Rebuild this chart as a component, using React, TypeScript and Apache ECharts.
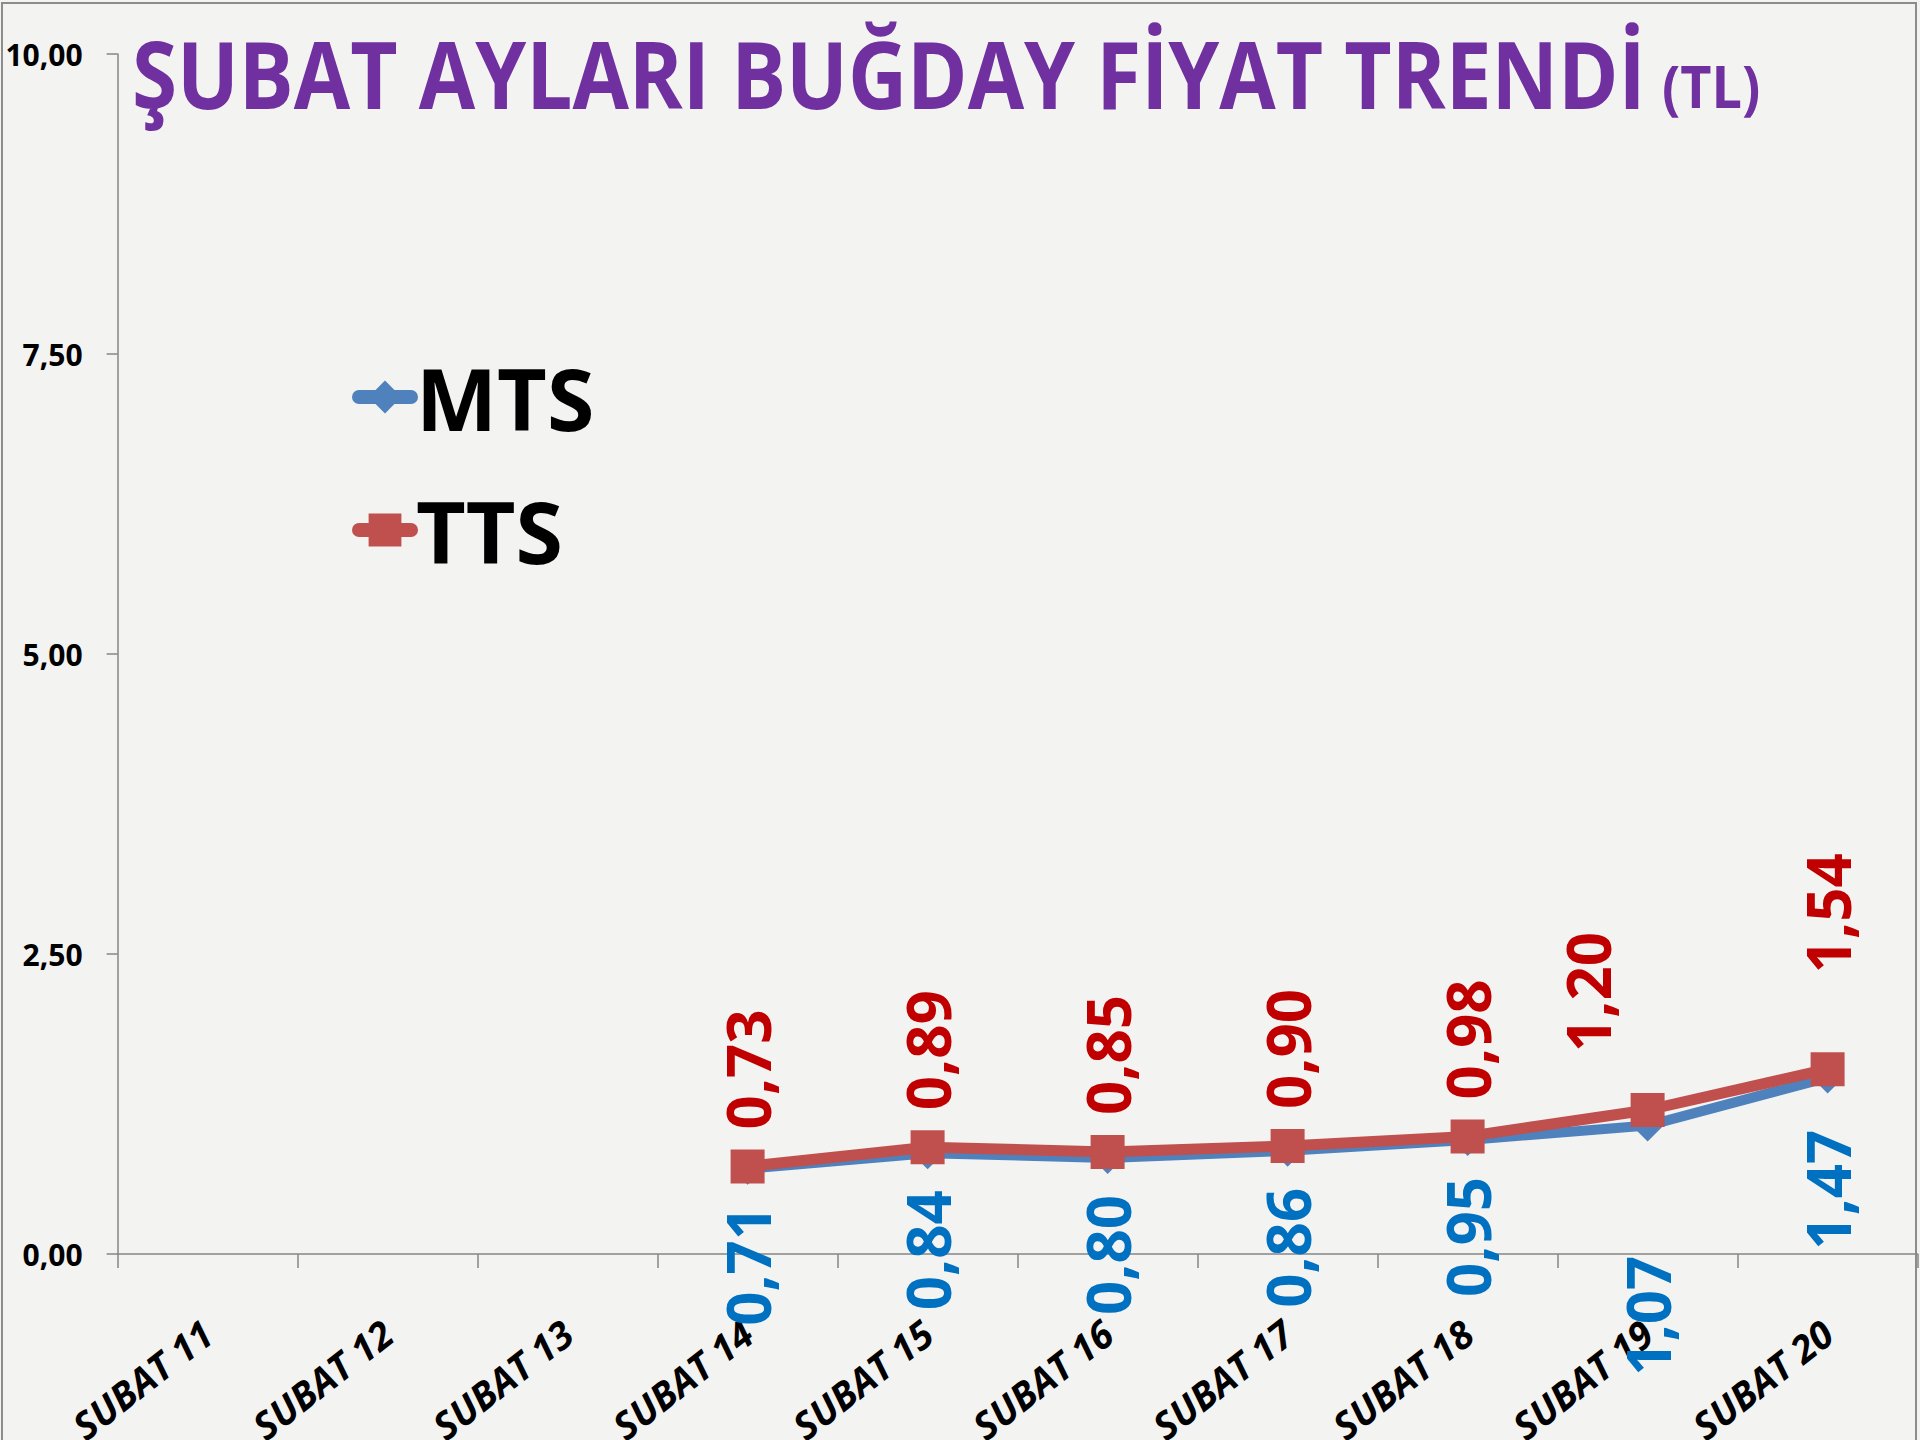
import React, { useEffect, useRef } from "react";
import * as echarts from "echarts";

const categories = [
  "SUBAT 11", "SUBAT 12", "SUBAT 13", "SUBAT 14", "SUBAT 15",
  "SUBAT 16", "SUBAT 17", "SUBAT 18", "SUBAT 19", "SUBAT 20",
];
const mtsValues: (number | null)[] = [null, null, null, 0.71, 0.84, 0.8, 0.86, 0.95, 1.07, 1.47];
const ttsValues: (number | null)[] = [null, null, null, 0.73, 0.89, 0.85, 0.9, 0.98, 1.2, 1.54];
const yTicks = [0, 2.5, 5, 7.5, 10];

const titleMain = "ŞUBAT AYLARI BUĞDAY FİYAT TRENDİ";
const titleUnit = "(TL)";

const FONT = '"Open Sans", "Noto Sans", sans-serif';
const fmt = (v: number) => v.toFixed(2).replace(".", ",");

// per-point label adjustments (distance from marker, screen x shift)
const ttsLabelAdj: Record<number, { d: number; dx?: number }> = {
  8: { d: 41, dx: -60 },
  9: { d: 79 },
};
const mtsLabelAdj: Record<number, { d: number; dx?: number }> = {
  8: { d: 114 },
  9: { d: 36 },
};

export default function App() {
  const ref = useRef<HTMLDivElement>(null);
  useEffect(() => {
    if (!ref.current) return;
    const chart = echarts.init(ref.current, null, { renderer: "svg" });

    const labelBase = {
      show: true,
      rotate: 90,
      verticalAlign: "middle",
      fontFamily: FONT,
      fontWeight: "bold",
      fontSize: 60,
      formatter: (p: any) => fmt(p.value),
    };

    const ttsData = ttsValues.map((v, i) => {
      const adj = ttsLabelAdj[i];
      if (v == null || !adj) return v;
      return { value: v, label: { distance: adj.d, offset: adj.dx ? [0, adj.dx] : [0, 0] } };
    });
    const mtsData = mtsValues.map((v, i) => {
      const adj = mtsLabelAdj[i];
      if (v == null || !adj) return v;
      return { value: v, label: { distance: adj.d, offset: adj.dx ? [0, adj.dx] : [0, 0] } };
    });

    chart.setOption({
      animation: false,
      backgroundColor: "#f3f3f2",
      grid: {
        left: 117.6,
        right: 2.4,
        top: 54,
        bottom: 186,
        containLabel: false,
        outerBoundsMode: "none",
      },
      graphic: [
        {
          type: "rect",
          shape: { x: 2, y: 3, width: 1914, height: 1440 },
          style: { fill: "none", stroke: "#8c8c8c", lineWidth: 2 },
          silent: true,
          z: 0,
        },
        {
          type: "text",
          x: 132,
          y: 73,
          scaleX: 0.87,
          style: {
            text: titleMain,
            font: `bold 94px ${FONT}`,
            fill: "#7030A0",
            textAlign: "left",
            textVerticalAlign: "middle",
          },
        },
        {
          type: "text",
          x: 1662,
          y: 85,
          scaleX: 0.9,
          style: {
            text: titleUnit,
            font: `bold 60px ${FONT}`,
            fill: "#7030A0",
            textAlign: "left",
            textVerticalAlign: "middle",
          },
        },
      ],
      legend: {
        orient: "vertical",
        left: 352,
        top: 352,
        padding: 0,
        itemWidth: 52,
        itemHeight: 41,
        itemGap: 43,
        lineStyle: { width: 14, cap: "round" },
        textStyle: {
          fontFamily: FONT,
          fontWeight: "bold",
          fontSize: 86,
          lineHeight: 90,
          color: "#000",
        },
        data: ["MTS", "TTS"],
      },
      xAxis: {
        type: "category",
        data: categories,
        boundaryGap: true,
        axisLine: { lineStyle: { color: "#868686", width: 1.5 } },
        axisTick: { show: true, length: 14, inside: false, lineStyle: { color: "#868686", width: 1.5 } },
        axisLabel: {
          rotate: 38,
          interval: 0,
          margin: 74,
          align: "right",
          verticalAlign: "middle",
          color: "#000",
          fontFamily: FONT,
          fontWeight: "bold",
          fontStyle: "italic",
          fontSize: 38,
        },
        splitLine: { show: false },
      },
      yAxis: {
        type: "value",
        min: yTicks[0],
        max: yTicks[yTicks.length - 1],
        interval: yTicks[1] - yTicks[0],
        axisLine: { show: true, lineStyle: { color: "#868686", width: 1.5 } },
        axisTick: { show: true, length: 11, inside: false, lineStyle: { color: "#868686", width: 1.5 } },
        axisLabel: {
          margin: 35,
          color: "#000",
          fontFamily: FONT,
          fontWeight: "bold",
          fontSize: 30,
          formatter: (v: number) => fmt(v),
        },
        splitLine: { show: false },
      },
      series: [
        {
          name: "MTS",
          type: "line",
          data: mtsData,
          symbol: "diamond",
          symbolSize: 32,
          lineStyle: { color: "#4F81BD", width: 10 },
          itemStyle: { color: "#4F81BD" },
          label: { ...labelBase, position: "bottom", align: "right", distance: 21, color: "#0070C0" },
          z: 2,
        },
        {
          name: "TTS",
          type: "line",
          data: ttsData,
          symbol: "rect",
          symbolSize: 34,
          lineStyle: { color: "#C0504D", width: 11 },
          itemStyle: { color: "#C0504D" },
          label: { ...labelBase, position: "top", align: "left", distance: 20, color: "#C00000" },
          z: 3,
        },
      ],
    });
    return () => chart.dispose();
  }, []);

  return (
    <div
      ref={ref}
      style={{ position: "absolute", left: 0, top: 0, width: 1920, height: 1440 }}
    />
  );
}
